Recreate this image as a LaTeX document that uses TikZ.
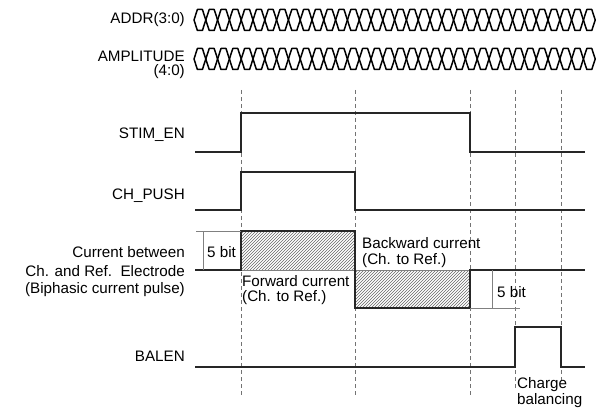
\documentclass[tikz,border=0pt]{standalone}
\usepackage{fontspec}
\setmainfont{Liberation Sans}
\usetikzlibrary{patterns}
\begin{document}
\begin{tikzpicture}[x=1pt,y=-1pt,
  lbl/.style={anchor=east,inner sep=0pt,font=\fontsize{15.2}{17}\selectfont},
  txt/.style={anchor=west,inner sep=0pt,font=\fontsize{15.2}{17}\selectfont},
  sig/.style={line width=1.4pt,draw=black!85},
  grid/.style={draw=black!55,line width=0.6pt,dash pattern=on 4pt off 3pt},
  dim/.style={draw=black!50,line width=0.6pt},
  bus/.style={draw=black,line width=1.5pt,line join=round},
  hatch/.style={pattern=north east lines,pattern color=black!60}]
\useasboundingbox (0,0) rectangle (605,409);
% labels
\node[lbl] (addr) at (185,20) {ADDR(3:0)};
\node[lbl] (amp) at (185,56) {AMPLITUDE};
\node[lbl] (amp2) at (185,72) {(4:0)};
\node[lbl] (stim) at (185,135) {STIM\_EN};
\node[lbl] (chp) at (185,196) {CH\_PUSH};
\node[lbl] (cur1) at (185,252) {Current between};
\node[lbl] (cur2) at (185,271) {Ch. and Ref.\ \ Electrode};
\node[lbl] (cur3) at (185,290) {(Biphasic current pulse)};
\node[lbl] (bal) at (185,356) {BALEN};
% buses
\foreach \yc in {20,59}{
  \foreach \i in {0,...,33}{
    \pgfmathsetmacro{\xa}{194+\i*11.8}
    \pgfmathsetmacro{\xb}{194+(\i+1)*11.8}
    \draw[bus] (\xa,\yc) .. controls (\xa+1.3,\yc-5) .. (\xa+3.4,\yc-10.5)
       -- (\xb-3.4,\yc-10.5) .. controls (\xb-1.3,\yc-5) .. (\xb,\yc)
       .. controls (\xb-1.3,\yc+5) .. (\xb-3.4,\yc+10.5)
       -- (\xa+3.4,\yc+10.5) .. controls (\xa+1.3,\yc+5) .. (\xa,\yc);
  }
}
% hatched current boxes
\fill[hatch] (241,231) rectangle (355,270);
\fill[hatch] (355,270) rectangle (470,308);
\draw[dim] (241,270) -- (355,270);
\draw[dim] (355,270) -- (470,270);
% grid lines
\foreach \x in {241,355,470}{\draw[grid] (\x,90) -- (\x,397);}
\draw[grid] (515,90) -- (515,388);
\draw[grid] (561,90) -- (561,382);
% signals
\draw[sig] (195,152) -- (241,152) -- (241,113) -- (470,113) -- (470,152) -- (585,152);
\draw[sig] (195,210) -- (241,210) -- (241,172) -- (355,172) -- (355,210) -- (585,210);
\draw[sig] (195,270) -- (241,270) -- (241,231) -- (355,231) -- (355,308) -- (470,308) -- (470,270) -- (585,270);
\draw[sig] (195,367) -- (515,367) -- (515,327) -- (561,327) -- (561,367) -- (585,367);
% dimensions
\draw[dim] (196,231) -- (241,231);
\draw[dim] (203,231) -- (203,270);
\draw[dim] (470,308) -- (520,308);
\draw[dim] (492,270) -- (492,308);
\node[txt] (b1) at (207,252) {5 bit};
\node[txt] (b2) at (497,292) {5 bit};
\node[txt] (bw1) at (362,243) {Backward current};
\node[txt] (bw2) at (362,261) {(Ch. to Ref.)};
\node[txt] (fw1) at (242,281) {Forward current};
\node[txt] (fw2) at (242,298) {(Ch. to Ref.)};
\node[txt] (ch1) at (517,385) {Charge};
\node[txt] (ch2) at (517,401) {balancing};
\end{tikzpicture}
\end{document}
